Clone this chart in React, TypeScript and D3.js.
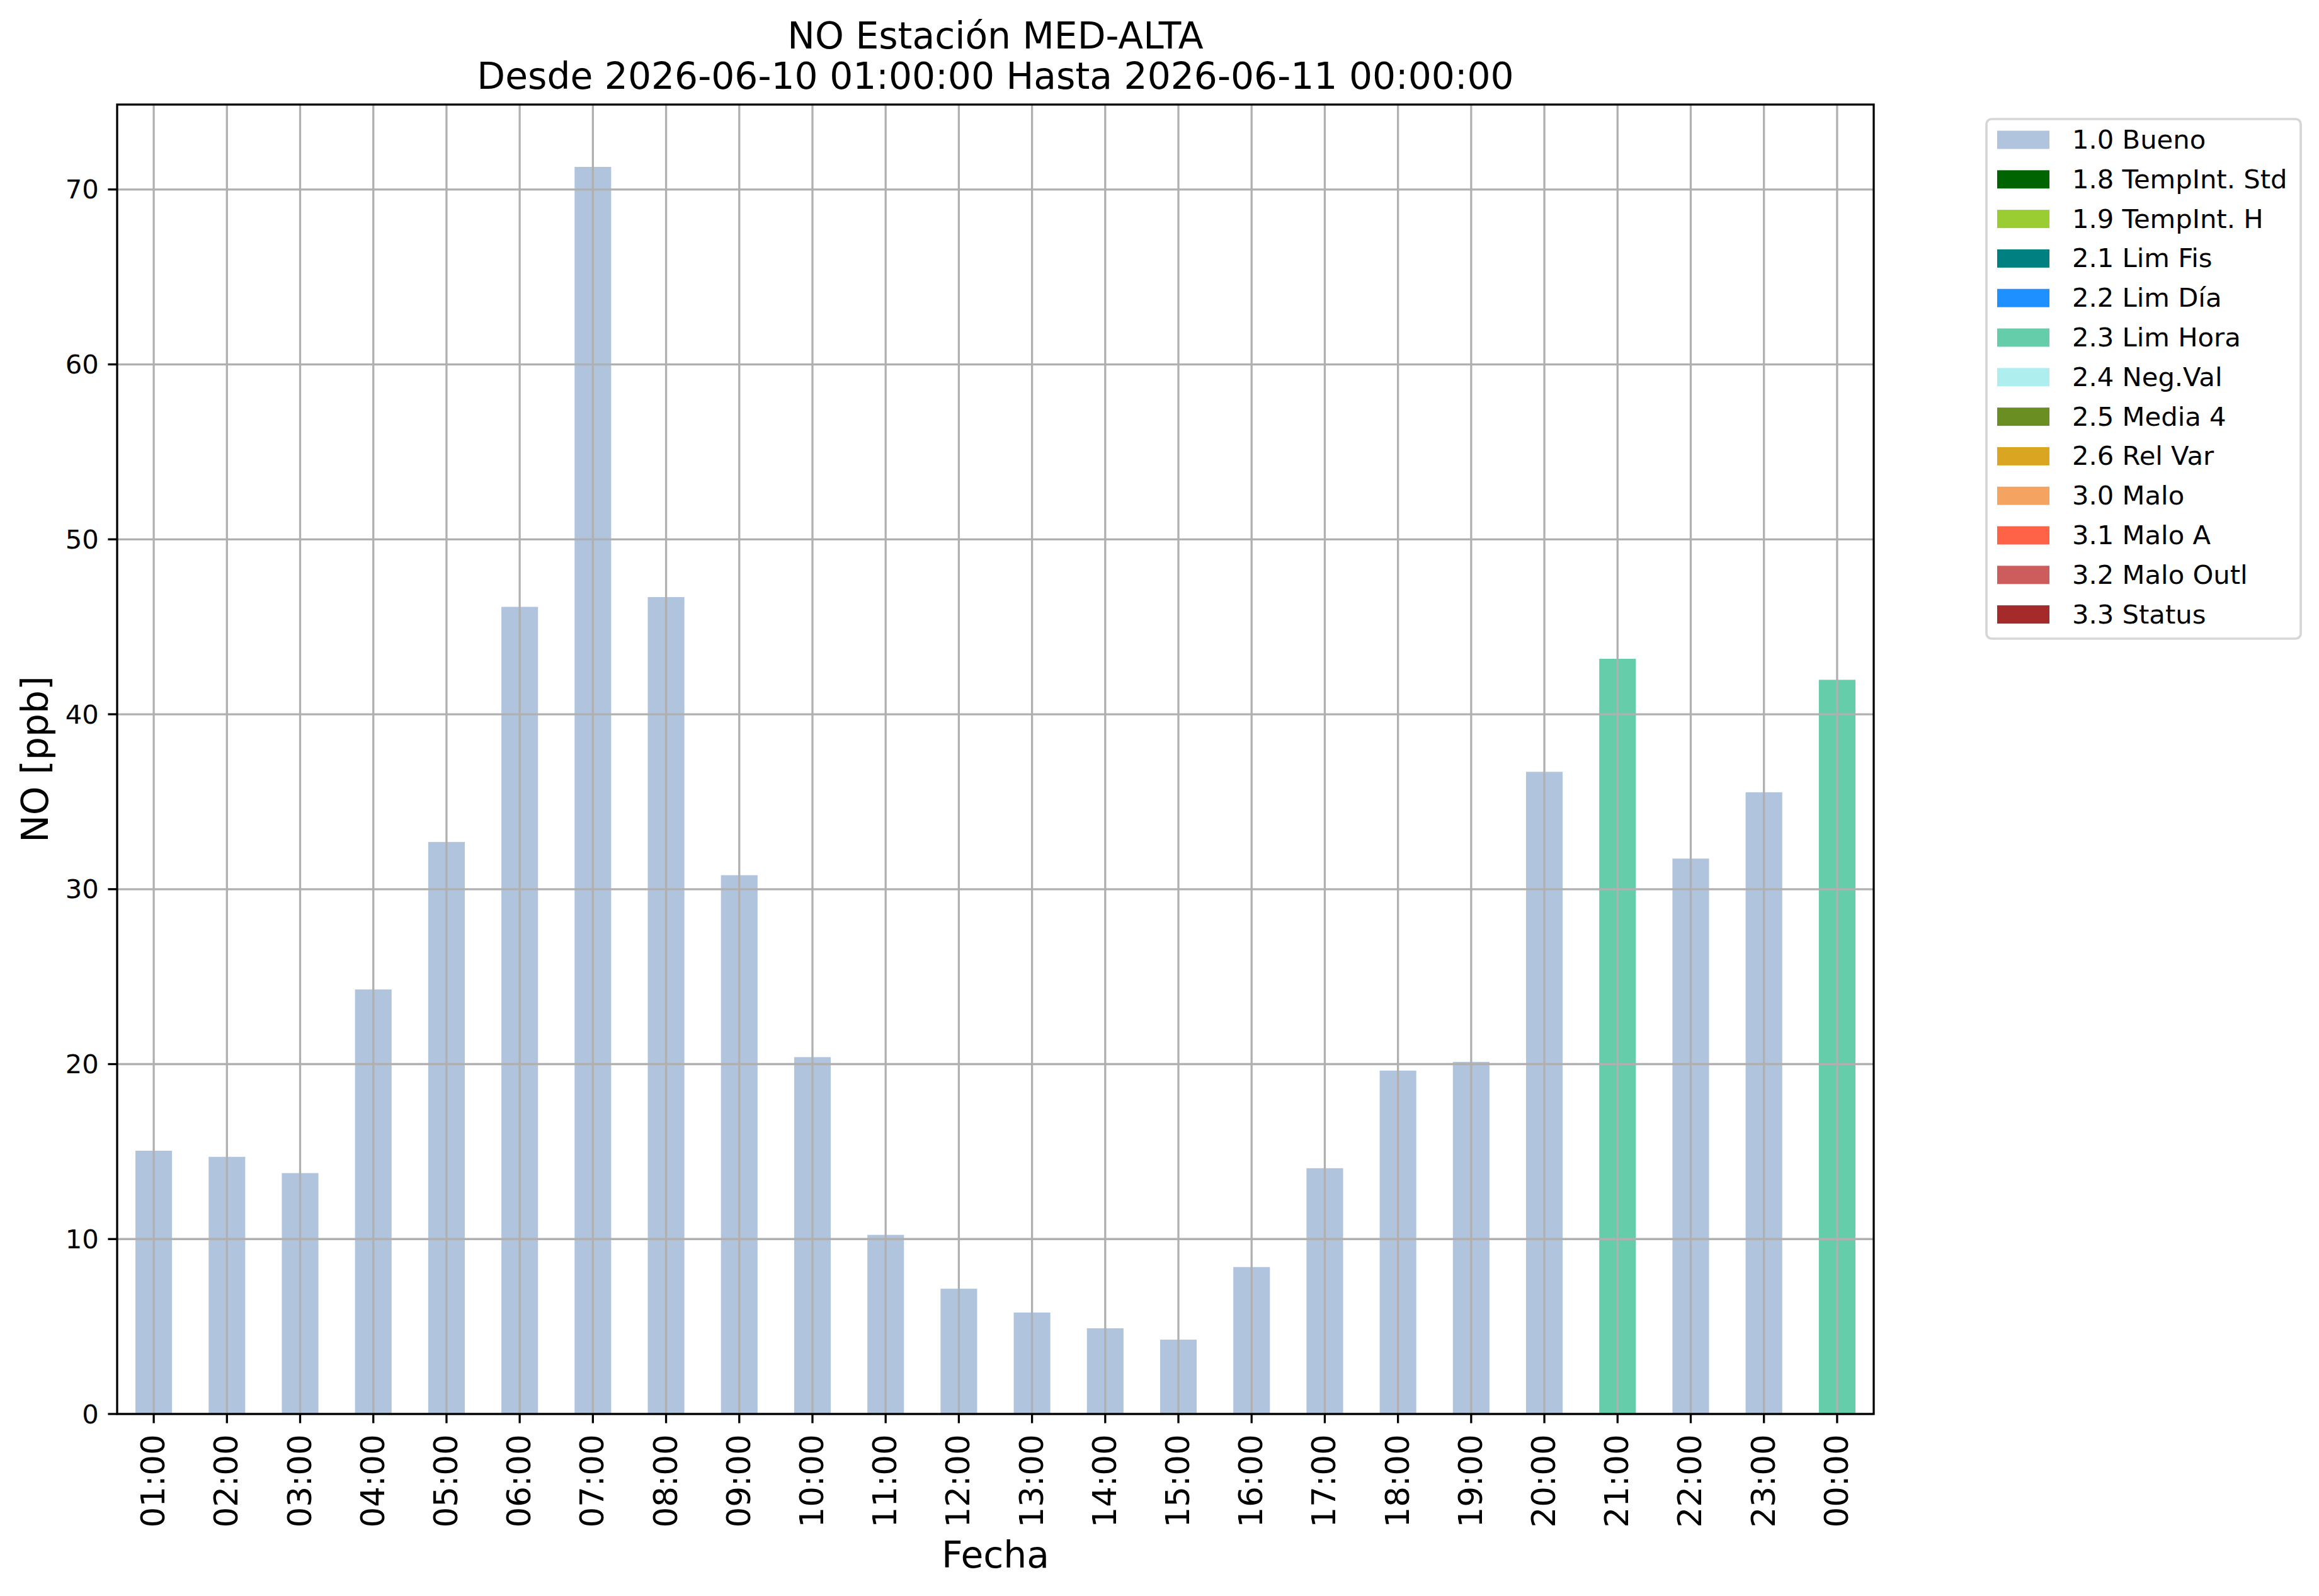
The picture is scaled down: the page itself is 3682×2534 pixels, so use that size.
import React, { useEffect } from "react";
import * as d3 from "d3";

// ---- data ----
const hours = [
  "01:00", "02:00", "03:00", "04:00", "05:00", "06:00", "07:00", "08:00",
  "09:00", "10:00", "11:00", "12:00", "13:00", "14:00", "15:00", "16:00",
  "17:00", "18:00", "19:00", "20:00", "21:00", "22:00", "23:00", "00:00",
];
const noValues = [
  15.05, 14.7, 13.77, 24.27, 32.7, 46.14, 71.29, 46.7,
  30.8, 20.4, 10.24, 7.16, 5.8, 4.9, 4.25, 8.4,
  14.05, 19.63, 20.13, 36.71, 43.17, 31.75, 35.54, 41.97,
];
const flags = [
  "1.0", "1.0", "1.0", "1.0", "1.0", "1.0", "1.0", "1.0",
  "1.0", "1.0", "1.0", "1.0", "1.0", "1.0", "1.0", "1.0",
  "1.0", "1.0", "1.0", "1.0", "2.3", "1.0", "1.0", "2.3",
];
const legendCodes = ["1.0", "1.8", "1.9", "2.1", "2.2", "2.3", "2.4", "2.5", "2.6", "3.0", "3.1", "3.2", "3.3"];
const legendNames = [
  "1.0 Bueno", "1.8 TempInt. Std", "1.9 TempInt. H", "2.1 Lim Fis", "2.2 Lim Día",
  "2.3 Lim Hora", "2.4 Neg.Val", "2.5 Media 4", "2.6 Rel Var", "3.0 Malo",
  "3.1 Malo A", "3.2 Malo Outl", "3.3 Status",
];
const legendColors = [
  "#b0c4de", "#006400", "#9acd32", "#008080", "#1e90ff", "#66cdaa", "#afeeee",
  "#6b8e23", "#daa520", "#f4a460", "#ff6347", "#cd5c5c", "#a52a2a",
];
const yTicks = [0, 10, 20, 30, 40, 50, 60, 70];
const titleLines = ["NO Estación MED-ALTA", "Desde 2026-06-10 01:00:00 Hasta 2026-06-11 00:00:00"];

const W = 3682;
const H = 2534;
const FONT = "'DejaVu Sans', sans-serif";

export default function App() {
  useEffect(() => {
    document.body.style.margin = "0";
    document.body.style.overflow = "hidden";
  }, []);

  const left = 186;
  const right = 2975;
  const top = 166;
  const bottom = 2245;

  const x = d3
    .scaleBand<string>()
    .domain(hours)
    .range([left, right])
    .paddingInner(0.5)
    .paddingOuter(0.25);
  const y = d3
    .scaleLinear()
    .domain([0, (d3.max(noValues) as number) * 1.05])
    .range([bottom, top]);

  const colorOf = d3.scaleOrdinal<string, string>().domain(legendCodes).range(legendColors);
  const center = (h: string) => (x(h) as number) + x.bandwidth() / 2;

  const lw = 3.3;
  const tickLen = 14.6;
  const pad = 14.6;

  const legX = 3154;
  const legY = 189;
  const legW = 499;
  const legH = 825;
  const rowStart = 222;
  const rowStep = 62.8;

  return (
    <svg width={W} height={H} viewBox={`0 0 ${W} ${H}`} style={{ display: "block", background: "#fff" }}>
      <rect x={0} y={0} width={W} height={H} fill="#fff" />
      {/* title */}
      <text x={(left + right) / 2} y={77} textAnchor="middle" fontFamily={FONT} fontSize={58.3} fill="#000">
        {titleLines[0]}
      </text>
      <text x={(left + right) / 2} y={141} textAnchor="middle" fontFamily={FONT} fontSize={58.3} fill="#000">
        {titleLines[1]}
      </text>

      {/* bars */}
      {hours.map((h, i) => (
        <rect
          key={h}
          x={x(h)}
          y={y(noValues[i])}
          width={x.bandwidth()}
          height={bottom - y(noValues[i])}
          fill={colorOf(flags[i])}
        />
      ))}

      {/* grid */}
      {yTicks.map((t) => (
        <line key={"gy" + t} x1={left} x2={right} y1={y(t)} y2={y(t)} stroke="#b0b0b0" strokeWidth={lw} />
      ))}
      {hours.map((h) => (
        <line key={"gx" + h} x1={center(h)} x2={center(h)} y1={top} y2={bottom} stroke="#b0b0b0" strokeWidth={lw} />
      ))}

      {/* spines */}
      <rect x={left} y={top} width={right - left} height={bottom - top} fill="none" stroke="#000" strokeWidth={lw} />

      {/* y ticks */}
      {yTicks.map((t) => (
        <g key={"yt" + t}>
          <line x1={left - tickLen} x2={left} y1={y(t)} y2={y(t)} stroke="#000" strokeWidth={lw} />
          <text
            x={left - tickLen - pad}
            y={y(t)}
            textAnchor="end"
            dominantBaseline="central"
            fontFamily={FONT}
            fontSize={41.7}
            fill="#000"
          >
            {t}
          </text>
        </g>
      ))}

      {/* x ticks */}
      {hours.map((h) => (
        <g key={"xt" + h}>
          <line x1={center(h)} x2={center(h)} y1={bottom} y2={bottom + tickLen} stroke="#000" strokeWidth={lw} />
          <text
            transform={`translate(${center(h) - 1},${bottom + tickLen + pad + 3}) rotate(-90)`}
            textAnchor="end"
            dominantBaseline="central"
            fontFamily={FONT}
            fontSize={51.5}
            fill="#000"
          >
            {h}
          </text>
        </g>
      ))}

      {/* axis labels */}
      <text x={(left + right) / 2} y={2489} textAnchor="middle" fontFamily={FONT} fontSize={58.3} fill="#000">
        Fecha
      </text>
      <text
        transform={`translate(76,${(top + bottom) / 2}) rotate(-90)`}
        textAnchor="middle"
        fontFamily={FONT}
        fontSize={58.3}
        fill="#000"
      >
        NO [ppb]
      </text>

      {/* legend */}
      <rect x={legX} y={legY} width={legW} height={legH} rx={8} ry={8} fill="#fff" fillOpacity={0.8} stroke="#d6d6d6" strokeWidth={3.7} />
      {legendNames.map((name, i) => {
        const cy = rowStart + i * rowStep;
        return (
          <g key={name}>
            <rect x={3171} y={cy - 14.5} width={83} height={29} fill={legendColors[i]} />
            <text x={3290} y={cy + 14} fontFamily={FONT} fontSize={41.7} fill="#000">
              {name}
            </text>
          </g>
        );
      })}
    </svg>
  );
}
